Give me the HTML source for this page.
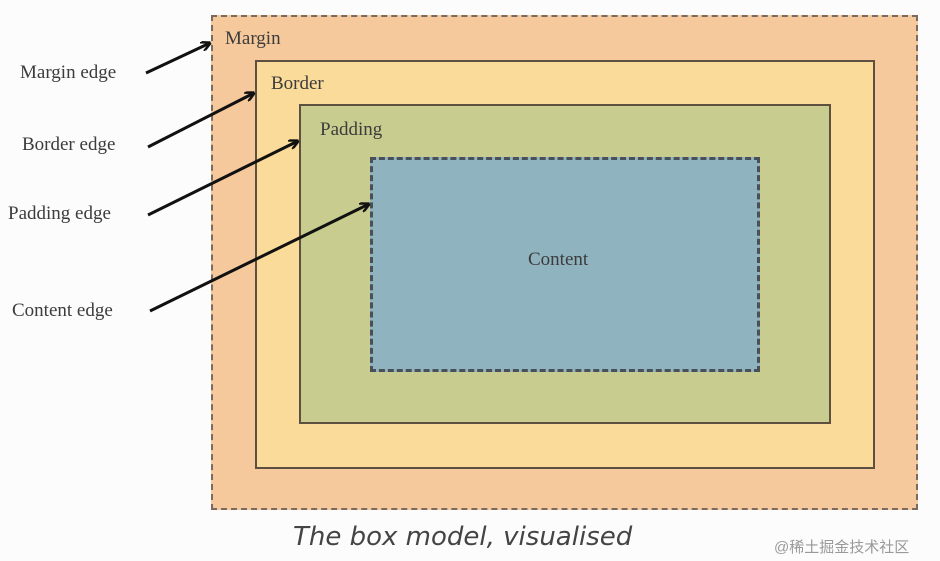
<!DOCTYPE html>
<html><head><style>
body{margin:0;background:#fcfcfc;width:940px;height:561px;overflow:hidden;position:relative;font-family:"Liberation Serif",serif;}
.b{position:absolute;box-sizing:border-box}
.t{position:absolute;font-size:19px;color:#3c3c3c;white-space:nowrap}
</style></head><body>
<div class="b" style="left:211px;top:15px;width:707px;height:495px;background:#f5c99b;border:2px dashed #7a6a60"></div>
<div class="b" style="left:255px;top:60px;width:620px;height:409px;background:#fbdb9a;border:2px solid #5e5040"></div>
<div class="b" style="left:299px;top:104px;width:532px;height:320px;background:#c8cc8e;border:2px solid #5e5040"></div>
<div class="b" style="left:370px;top:157px;width:390px;height:215px;background:#8fb3bf;border:3px dashed #4a5058"></div>
<div class="t" style="left:225px;top:28px">Margin</div>
<div class="t" style="left:271px;top:73px">Border</div>
<div class="t" style="left:320px;top:119px">Padding</div>
<div class="t" style="left:528px;top:249px">Content</div>
<div class="t" style="left:20px;top:62px">Margin edge</div>
<div class="t" style="left:22px;top:134px">Border edge</div>
<div class="t" style="left:8px;top:203px">Padding edge</div>
<div class="t" style="left:12px;top:300px">Content edge</div>
<svg width="940" height="561" style="position:absolute;left:0;top:0">
<defs><marker id="a" markerWidth="10" markerHeight="10" refX="9" refY="5" orient="auto" markerUnits="userSpaceOnUse"><path d="M0,0 L10,5 L0,10" fill="none" stroke="#111" stroke-width="2.5"/></marker></defs>
<g stroke="#111" stroke-width="3" fill="none" marker-end="url(#a)">
<line x1="146" y1="73" x2="210" y2="43"/>
<line x1="148" y1="147" x2="254" y2="93"/>
<line x1="148" y1="215" x2="298" y2="141"/>
<line x1="150" y1="311" x2="369" y2="204"/>
</g></svg>
<div class="t" style="left:293px;top:522px;font-family:'DejaVu Sans',sans-serif;font-style:italic;font-size:26px;color:#444">The box model, visualised</div>
<div class="t" style="left:774px;top:536px;font-size:15px;color:#999;font-family:'Liberation Sans','Noto Sans CJK SC',sans-serif">@稀土掘金技术社区</div>
</body></html>
